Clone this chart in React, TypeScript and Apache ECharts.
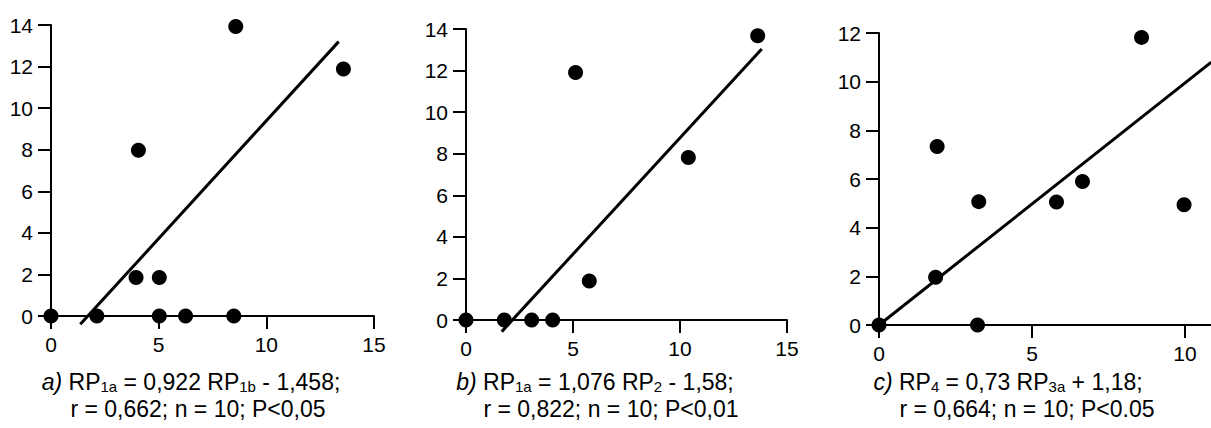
import React, { useEffect, useRef } from "react";
import * as echarts from "echarts";

// Panel a) RP1a vs RP1b
const pointsA: number[][] = [
  [0, 0], [2.13, 0], [5.03, 0], [6.25, 0], [8.49, 0],
  [3.95, 1.85], [5.03, 1.85], [4.06, 7.97], [8.58, 13.93], [13.58, 11.88],
];
const fitA: number[][] = [[1.36, -0.4], [13.36, 13.2]];

// Panel b) RP1a vs RP2
const pointsB: number[][] = [
  [0, 0], [1.79, 0], [3.07, 0], [4.05, 0],
  [5.12, 11.91], [5.76, 1.88], [10.39, 7.82], [13.63, 13.68],
];
const fitB: number[][] = [[1.67, -0.56], [13.82, 13.04]];

// Panel c) RP4 vs RP3a
const pointsC: number[][] = [
  [0, 0], [3.22, 0], [1.85, 1.96], [1.9, 7.34], [3.26, 5.07],
  [5.8, 5.05], [6.65, 5.9], [8.58, 11.82], [9.97, 4.94],
];
const fitC: number[][] = [[0, 0], [10.86, 10.8]];

const xTicksC = [0, 5, 10];

const captionA = ["{i|a)} RP{s|1a} = 0,922 RP{s|1b} - 1,458;", "r = 0,662; n = 10; P<0,05"];
const captionB = ["{i|b)} RP{s|1a} = 1,076 RP{s|2} - 1,58;", "r = 0,822; n = 10; P<0,01"];
const captionC = ["{i|c)} RP{s|4} = 0,73 RP{s|3a} + 1,18;", "r = 0,664; n = 10; P<0.05"];

const FONT = "'Liberation Sans', Arial, sans-serif";

export default function App() {
  const ref = useRef<HTMLDivElement>(null);
  useEffect(() => {
    if (!ref.current) return;
    const chart = echarts.init(ref.current, null, { renderer: "svg" });

    const axisCommon = {
      axisLine: { show: true, onZero: false, lineStyle: { color: "#000", width: 2 } },
      axisTick: { show: true, length: 13, lineStyle: { color: "#000", width: 2 } },
      splitLine: { show: false },
    };
    const xAxisBase = (grid: number, max: number, extra: any = {}) => ({
      type: "value",
      gridIndex: grid,
      min: 0,
      max,
      interval: 5,
      ...axisCommon,
      axisLabel: { color: "#000", fontSize: 21, fontFamily: FONT, margin: 18, ...(extra.axisLabel || {}) },
      axisTick: { ...axisCommon.axisTick, ...(extra.axisTick || {}) },
    });
    const yAxisBase = (grid: number, max: number) => ({
      type: "value",
      gridIndex: grid,
      min: 0,
      max,
      interval: 2,
      ...axisCommon,
      axisLabel: { color: "#000", fontSize: 21, fontFamily: FONT, margin: 18 },
    });

    const scatter = (i: number, data: number[][]) => ({
      type: "scatter",
      xAxisIndex: i,
      yAxisIndex: i,
      data,
      symbol: "circle",
      symbolSize: 15,
      itemStyle: { color: "#000", opacity: 1 },
      z: 5,
    });
    const fit = (i: number, data: number[][]) => ({
      type: "line",
      xAxisIndex: i,
      yAxisIndex: i,
      data,
      showSymbol: false,
      symbol: "none",
      clip: false,
      lineStyle: { color: "#000", width: 3 },
      z: 4,
    });

    const rich = {
      i: { fontStyle: "italic", fontSize: 23, fontFamily: FONT, fill: "#000", lineHeight: 23 },
      s: { fontSize: 15, fontFamily: FONT, fill: "#000", lineHeight: 12, verticalAlign: "bottom" },
    };
    const caption = (cx1: number, cx2: number, lines: string[]) => [
      {
        type: "text",
        x: cx1,
        y: 382,
        style: {
          text: lines[0],
          rich,
          fontSize: 23,
          fontFamily: FONT,
          fill: "#000",
          align: "center",
          verticalAlign: "middle",
          lineHeight: 23,
        },
      },
      {
        type: "text",
        x: cx2,
        y: 409,
        style: {
          text: lines[1],
          fontSize: 23,
          fontFamily: FONT,
          fill: "#000",
          align: "center",
          verticalAlign: "middle",
          lineHeight: 23,
        },
      },
    ];

    chart.setOption({
      animation: false,
      backgroundColor: "#fff",
      grid: [
        { left: 51, top: 25, width: 323, height: 291 },
        { left: 466, top: 29, width: 321, height: 291 },
        { left: 879, top: 33, width: 332, height: 292 },
      ],
      xAxis: [
        xAxisBase(0, 15),
        xAxisBase(1, 15),
        xAxisBase(2, 10.85, {
          axisLabel: { customValues: xTicksC },
          axisTick: { customValues: xTicksC },
        }),
      ],
      yAxis: [yAxisBase(0, 14), yAxisBase(1, 14), yAxisBase(2, 12)],
      series: [
        fit(0, fitA),
        scatter(0, pointsA),
        fit(1, fitB),
        scatter(1, pointsB),
        fit(2, fitC),
        scatter(2, pointsC),
      ],
      graphic: [
        ...caption(191, 198, captionA),
        ...caption(595, 611, captionB),
        ...caption(1008, 1027, captionC),
      ],
    });
    return () => chart.dispose();
  }, []);
  return (
    <div
      ref={ref}
      style={{ position: "fixed", left: 0, top: 0, width: 1211, height: 428, background: "#fff" }}
    />
  );
}
